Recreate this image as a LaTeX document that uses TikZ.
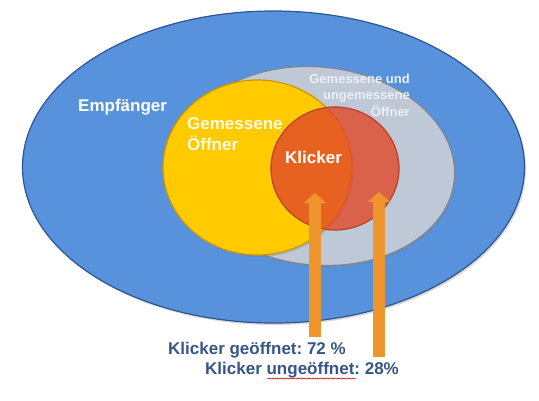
\documentclass[tikz,border=0pt]{standalone}
\usepackage{fontspec}
\setmainfont{Liberation Sans}
\usepackage{xcolor}
\usepackage{tikz}
\usetikzlibrary{arrows.meta,shapes.geometric,shadows,decorations.pathmorphing}

\definecolor{empfblau}{RGB}{88,146,220}
\definecolor{empfrand}{RGB}{45,85,145}
\definecolor{offgrau}{RGB}{190,200,214}
\definecolor{offrand}{RGB}{125,135,150}
\definecolor{messgelb}{RGB}{255,202,0}
\definecolor{messrand}{RGB}{205,150,0}
\definecolor{klickrot}{RGB}{225,72,40}
\definecolor{klickrand}{RGB}{185,65,40}
\definecolor{pfeilorange}{RGB}{238,150,45}
\definecolor{textblau}{RGB}{55,85,135}
\definecolor{textgrau}{RGB}{236,240,245}

\frenchspacing
\begin{document}
\begin{tikzpicture}[x=1pt, y=-1pt,
    menge/.style={draw, ellipse, inner sep=0pt, line width=1.2pt},
    schatten/.style={drop shadow={shadow xshift=1.5pt, shadow yshift=-2pt, opacity=.3}},
    etikett/.style={font=\bfseries\fontsize{17}{21}\selectfont, text=white, inner sep=0pt},
    pfeil/.style={line width=12pt, pfeilorange, shorten <=5pt, -{Triangle[width=22pt,length=10pt]}}]
    \useasboundingbox (0,0) rectangle (539,400);

    % Mengen
    \node[menge, schatten, fill=empfblau, draw=empfrand, minimum width=502pt, minimum height=312pt] (empf) at (273.5,167) {};
    \node[menge, schatten, fill=offgrau, draw=offrand, minimum width=276pt, minimum height=198pt, rotate=-6] (offner) at (317,166) {};
    \node[menge, schatten, fill=messgelb, draw=messrand, minimum width=189pt, minimum height=175pt] (gemessen) at (257.5,167.5) {};
    \node[menge, fill=klickrot, fill opacity=.8, draw=klickrand, minimum width=128pt, minimum height=123pt] (klicker) at (335,168.5) {};

    % Beschriftungen
    \node[etikett, anchor=west] (lempf) at (78,107) {Empfänger};
    \node[etikett, anchor=west, align=left, text={rgb,255:red,255;green,250;blue,228}] (lgem) at (187,134.5) {Gemessene\\Öffner};
    \node[etikett, anchor=west] (lklick) at (285,157) {Klicker};
    \node[etikett, anchor=east, align=right, text=textgrau, font=\bfseries\fontsize{13}{16.5}\selectfont] (loff) at (410,95) {Gemessene und\\ungemessene\\Öffner};
    \node[etikett, anchor=west, text=textblau] (lauf) at (168,350) {Klicker geöffnet: 72 \%};
    \node[etikett, anchor=west, text=textblau] (lzu) at (205,370) {Klicker ungeöffnet: 28\%};

    % Pfeile
    \coordinate (spitze1) at (315,193);
    \coordinate (spitze2) at (379,192);
    \draw[pfeil] (lauf.north -| spitze1) -- (spitze1);
    \draw[pfeil] (lzu.north -| spitze2) -- (spitze2);

    % Rechtschreibung
    \draw[red!75!black, line width=.5pt, decorate, decoration={snake, amplitude=.6pt, segment length=2.5pt}] (267,378.5) -- (356,378.5);
\end{tikzpicture}
\end{document}
